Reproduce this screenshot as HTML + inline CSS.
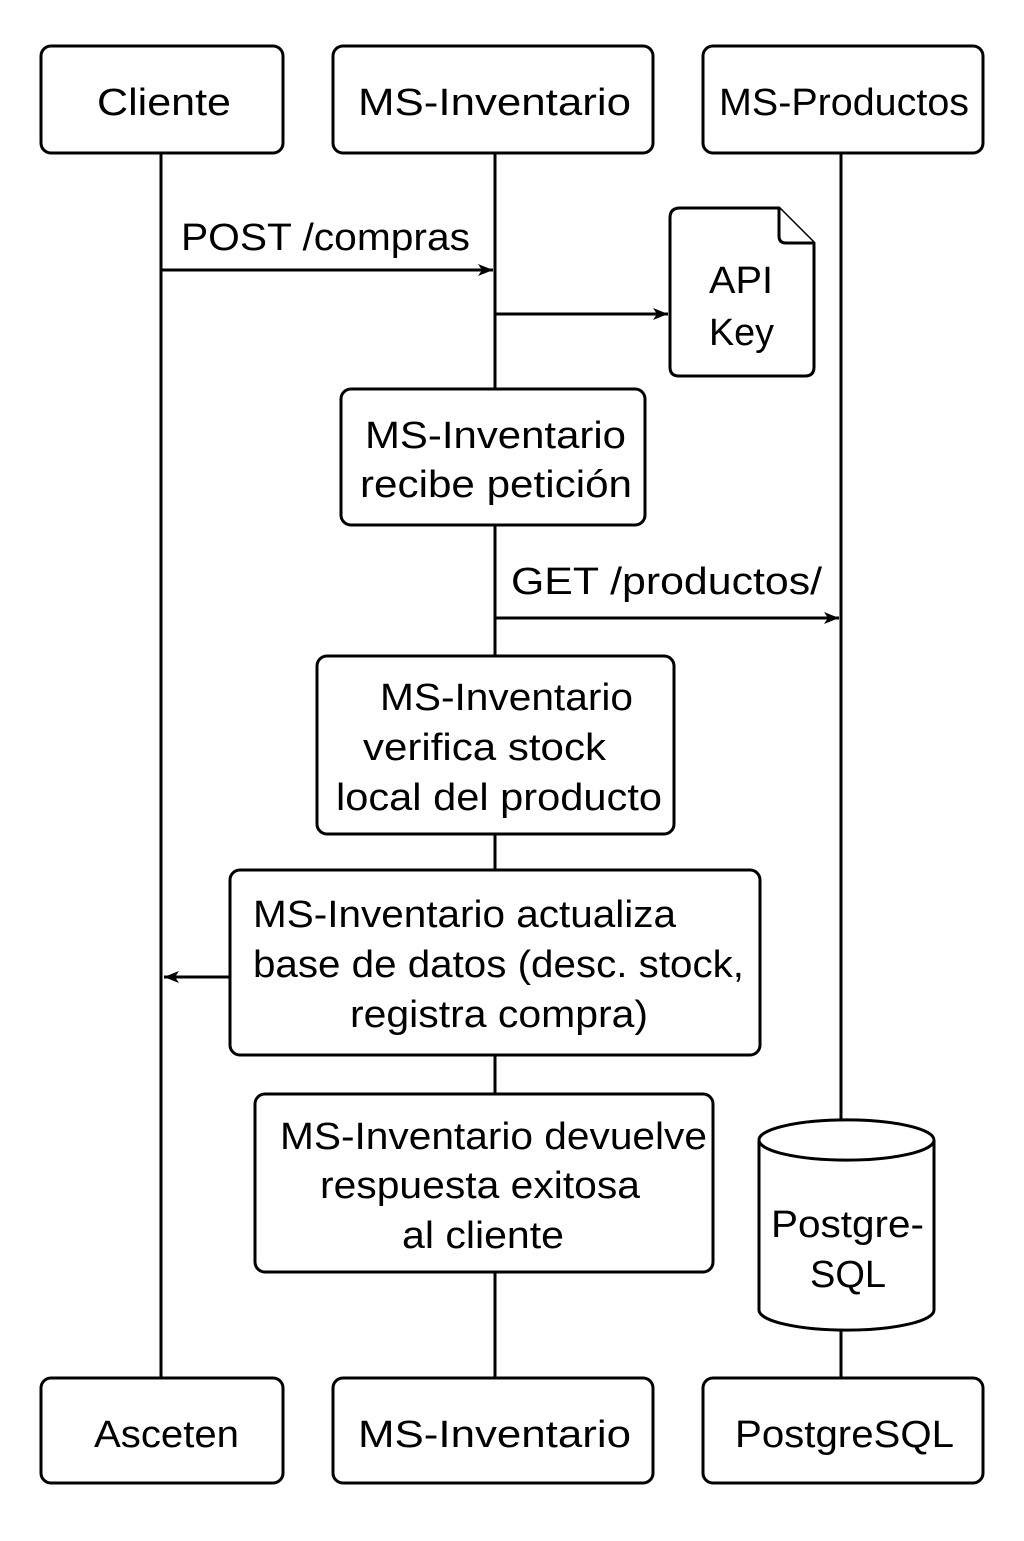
<!DOCTYPE html>
<html><head><meta charset="utf-8"><style>html,body{margin:0;padding:0;background:#fff}</style></head>
<body>
<svg width="1024" height="1536" viewBox="0 0 1024 1536" xmlns="http://www.w3.org/2000/svg" font-family="Liberation Sans, sans-serif" fill="none" stroke="#000" stroke-width="3">
<defs><marker id="a" markerWidth="16" markerHeight="14" refX="15" refY="7" orient="auto" markerUnits="userSpaceOnUse"><path d="M0,1 L15,7 L0,13 L4,7 Z" fill="#000" stroke="none"/></marker></defs>
<line x1="161" y1="153" x2="161" y2="1378"/>
<line x1="495" y1="153" x2="495" y2="1378"/>
<line x1="841" y1="153" x2="841" y2="1120"/>
<line x1="841" y1="1320" x2="841" y2="1378"/>
<g fill="#fff">
<rect x="41" y="46" width="242" height="107" rx="10"/>
<rect x="333" y="46" width="320" height="107" rx="10"/>
<rect x="703" y="46" width="280" height="107" rx="10"/>
<rect x="41" y="1378" width="242" height="105" rx="10"/>
<rect x="333" y="1378" width="320" height="105" rx="10"/>
<rect x="703" y="1378" width="280" height="105" rx="10"/>
<rect x="341" y="389" width="304" height="136" rx="10"/>
<rect x="317" y="656" width="357" height="178" rx="10"/>
<rect x="230" y="870" width="530" height="185" rx="10"/>
<rect x="255" y="1094" width="458" height="178" rx="10"/>
<path d="M680,208 L779,208 L814,243 L814,367 Q814,376 805,376 L679,376 Q670,376 670,367 L670,218 Q670,208 680,208 Z"/>
<path d="M779,208 L779,236 Q779,243 786,243 L814,243"/>
<path d="M759,1140 L759,1310 A87,20 0 0 0 934,1310 L934,1140 A87,20 0 0 0 759,1140 A87,20 0 0 0 934,1140"/>
</g>
<line x1="161" y1="270" x2="493" y2="270" marker-end="url(#a)"/>
<line x1="495" y1="314" x2="668" y2="314" marker-end="url(#a)"/>
<line x1="495" y1="618" x2="839" y2="618" marker-end="url(#a)"/>
<line x1="230" y1="977" x2="164" y2="977" marker-end="url(#a)"/>
<g fill="#000" stroke="none" font-size="38" lengthAdjust="spacingAndGlyphs">
<text x="97" y="115" textLength="134" lengthAdjust="spacingAndGlyphs">Cliente</text>
<text x="358" y="115" textLength="273" lengthAdjust="spacingAndGlyphs">MS-Inventario</text>
<text x="719" y="115" textLength="250" lengthAdjust="spacingAndGlyphs">MS-Productos</text>
<text x="94" y="1447" textLength="145" lengthAdjust="spacingAndGlyphs">Asceten</text>
<text x="358" y="1447" textLength="273" lengthAdjust="spacingAndGlyphs">MS-Inventario</text>
<text x="735" y="1447" textLength="219" lengthAdjust="spacingAndGlyphs">PostgreSQL</text>
<text x="181" y="250" textLength="289" lengthAdjust="spacingAndGlyphs">POST /compras</text>
<text x="511" y="594" textLength="311" lengthAdjust="spacingAndGlyphs">GET /productos/</text>
<text x="709" y="293" textLength="64" lengthAdjust="spacingAndGlyphs">API</text>
<text x="709" y="345" textLength="65" lengthAdjust="spacingAndGlyphs">Key</text>
<text x="365" y="448" textLength="261" lengthAdjust="spacingAndGlyphs">MS-Inventario</text>
<text x="360" y="497" textLength="272" lengthAdjust="spacingAndGlyphs">recibe petición</text>
<text x="380" y="710" textLength="253" lengthAdjust="spacingAndGlyphs">MS-Inventario</text>
<text x="363" y="760" textLength="243" lengthAdjust="spacingAndGlyphs">verifica stock</text>
<text x="336" y="810" textLength="326" lengthAdjust="spacingAndGlyphs">local del producto</text>
<text x="253" y="927" textLength="423" lengthAdjust="spacingAndGlyphs">MS-Inventario actualiza</text>
<text x="253" y="977" textLength="491" lengthAdjust="spacingAndGlyphs">base de datos (desc. stock,</text>
<text x="350" y="1027" textLength="298" lengthAdjust="spacingAndGlyphs">registra compra)</text>
<text x="280" y="1149" textLength="427" lengthAdjust="spacingAndGlyphs">MS-Inventario devuelve</text>
<text x="320" y="1198" textLength="320" lengthAdjust="spacingAndGlyphs">respuesta exitosa</text>
<text x="402" y="1248" textLength="162" lengthAdjust="spacingAndGlyphs">al cliente</text>
<text x="771" y="1237" textLength="153" lengthAdjust="spacingAndGlyphs">Postgre-</text>
<text x="810" y="1287" textLength="76" lengthAdjust="spacingAndGlyphs">SQL</text>
</g>
</svg>
</body></html>
